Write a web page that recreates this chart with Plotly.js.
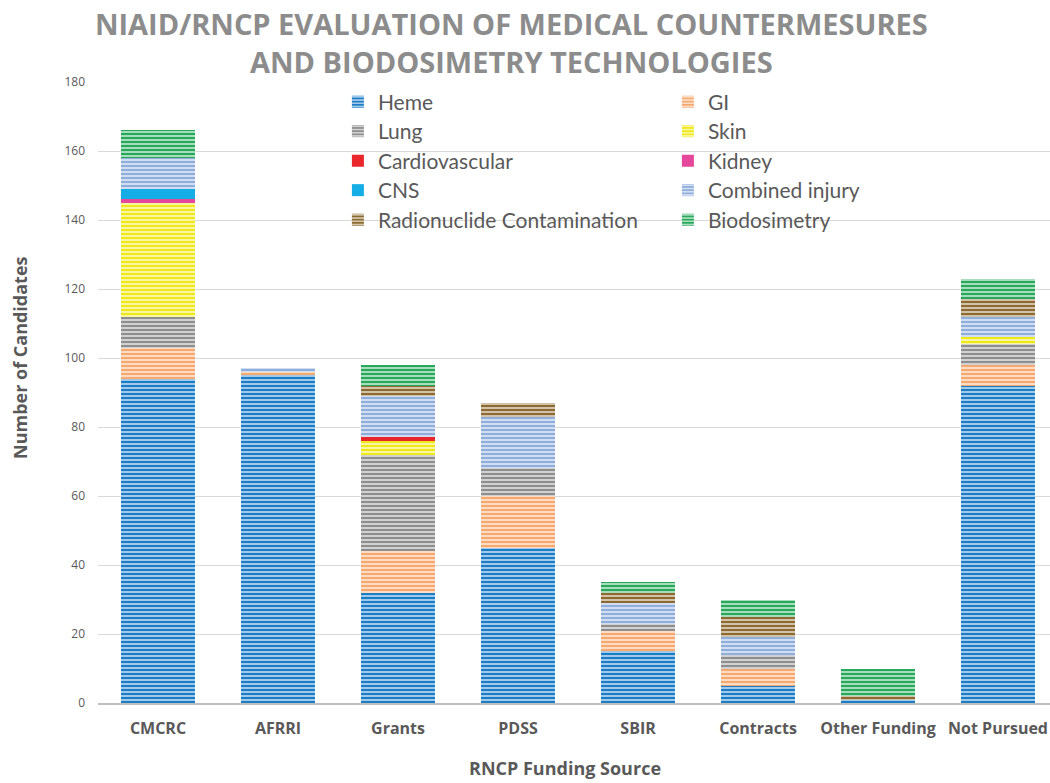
<!DOCTYPE html>
<html>
<head>
<meta charset="utf-8">
<script src="https://cdn.plot.ly/plotly-3.0.1.min.js"></script>
<style>html,body{margin:0;padding:0;background:#fff}#chart{width:1050px;height:783px}</style>
</head>
<body>
<div id="chart"></div>
<script>
const categories = ["CMCRC", "AFRRI", "Grants", "PDSS", "SBIR", "Contracts", "Other Funding", "Not Pursued"];

const heme          = [94, 95, 32, 45, 15, 5, 1, 92];
const gi            = [9, 1, 12, 15, 6, 5, 0, 6];
const lung          = [9, 0, 28, 8, 2, 4, 0, 6];
const skin          = [33, 0, 4, 0, 0, 0, 0, 2];
const cardiovascular= [0, 0, 1, 0, 0, 0, 0, 0];
const kidney        = [1, 0, 0, 0, 0, 0, 0, 0];
const cns           = [3, 0, 0, 0, 0, 0, 0, 0];
const combinedInjury= [9, 1, 12, 15, 6, 5, 0, 6];
const radionuclide  = [0, 0, 3, 4, 3, 6, 1, 5];
const biodosimetry  = [8, 0, 6, 0, 3, 5, 8, 6];

const seriesNames = ["Heme", "GI", "Lung", "Skin", "Cardiovascular", "Kidney", "CNS", "Combined injury", "Radionuclide Contamination", "Biodosimetry"];
const seriesValues = [heme, gi, lung, skin, cardiovascular, kidney, cns, combinedInjury, radionuclide, biodosimetry];
const seriesColors = ["#1B7DC6", "#F6A86E", "#8E8E8E", "#EFE81A", "#E8262C", "#E5489A", "#14ADE6", "#8FAEDC", "#8C6A30", "#27A85A"];
const striped = [true, true, true, true, false, false, false, true, true, true];
const legendIds = ["legend", "legend", "legend2", "legend2", "legend3", "legend3", "legend4", "legend4", "legend5", "legend5"];

const traces = seriesNames.map((name, i) => ({
  type: "bar",
  name: name,
  x: categories,
  y: seriesValues[i],
  legend: legendIds[i],
  marker: {
    color: seriesColors[i],
    line: {width: 0},
    pattern: striped[i] ? {shape: "-", fillmode: "replace", bgcolor: seriesColors[i], fgcolor: "#ffffff", fgopacity: 0.85, size: 4, solidity: 0.35} : {shape: ""}
  },
  hoverinfo: "x+y+name"
}));

const legFont = {family: "Lato, 'Open Sans', sans-serif", size: 21, color: "#595959"};
function leg(y) {
  return {orientation: "h", x: 0.252, xanchor: "left", y: y, yanchor: "middle", entrywidth: 285, entrywidthmode: "pixels",
          bgcolor: "rgba(0,0,0,0)", font: legFont, itemclick: false, itemdoubleclick: false, traceorder: "normal"};
}
function py(px) { return (703 - px) / 621; }
function pxX(px) { return (px - 98) / 952; }

const layout = {
  width: 1050, height: 783,
  margin: {l: 98, r: 0, t: 82, b: 80, autoexpand: false},
  paper_bgcolor: "#ffffff", plot_bgcolor: "#ffffff",
  barmode: "stack",
  bargap: 0.38,
  title: {
    text: "NIAID/RNCP EVALUATION OF MEDICAL COUNTERMESURES<br>AND BIODOSIMETRY TECHNOLOGIES",
    x: 0.487, xref: "container", xanchor: "center",
    y: 0.955, yref: "container", yanchor: "top",
    font: {family: "'Open Sans', sans-serif", size: 29, color: "#8C8C8C", weight: "bold"}
  },
  xaxis: {
    type: "category",
    range: [-0.5, 7.433],
    showgrid: false,
    showline: true, linecolor: "#BFBFBF", linewidth: 2,
    ticks: "",
    tickangle: 0,
    ticklabelstandoff: 10,
    tickfont: {family: "'Open Sans', sans-serif", size: 16, color: "#595959", weight: "bold"},
    fixedrange: true
  },
  yaxis: {
    range: [0, 180],
    dtick: 20,
    showgrid: true, gridcolor: "#D9D9D9", gridwidth: 1,
    zeroline: false,
    showline: false,
    ticks: "",
    ticklabelstandoff: 12,
    tickfont: {family: "'Open Sans', sans-serif", size: 12, color: "#595959"},
    fixedrange: true
  },
  annotations: [{
    text: "Number of Candidates", textangle: -90,
    xref: "paper", yref: "paper", x: pxX(20), y: py(358), xanchor: "center", yanchor: "middle",
    showarrow: false,
    font: {family: "'Open Sans', sans-serif", size: 18, color: "#595959", weight: "bold"}
  }, {
    text: "RNCP Funding Source",
    xref: "paper", yref: "paper", x: pxX(565), y: py(768), xanchor: "center", yanchor: "middle",
    showarrow: false,
    font: {family: "'Open Sans', sans-serif", size: 18, color: "#595959", weight: "bold"}
  }],
  legend: leg(py(102)),
  legend2: leg(py(131.5)),
  legend3: leg(py(161)),
  legend4: leg(py(190.5)),
  legend5: leg(py(220)),
  showlegend: true
};

Plotly.newPlot("chart", traces, layout, {displayModeBar: false});
</script>
</body>
</html>
